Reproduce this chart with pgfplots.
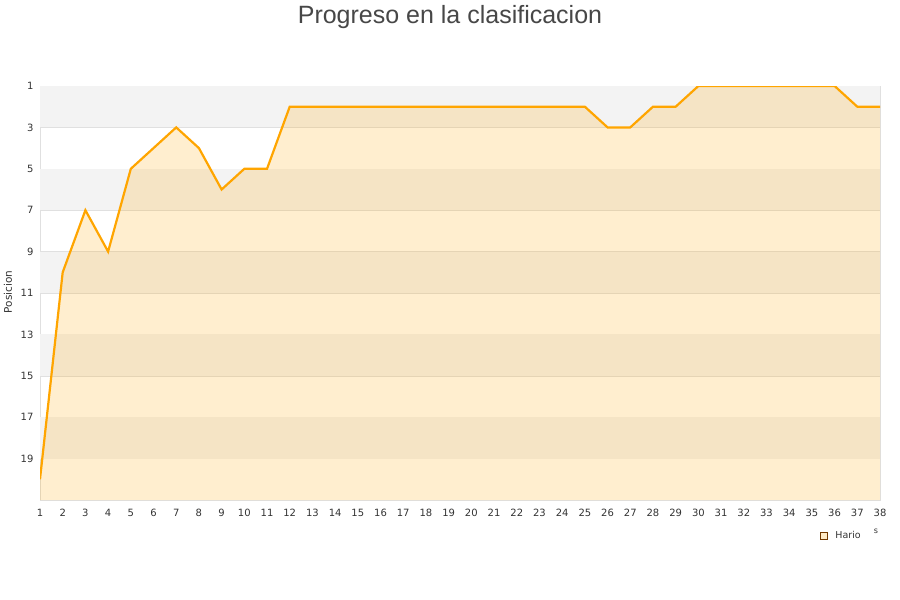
\documentclass[border=0pt]{standalone}
\usepackage{pgfplots}
\pgfplotsset{compat=1.18}
\usepackage{fontspec}
\setmainfont{DejaVu Sans}
\newfontfamily\titlefont{Liberation Sans}
\definecolor{lineor}{HTML}{FFA500}
\definecolor{bandgray}{HTML}{F3F3F3}
\definecolor{gridc}{HTML}{E0E0E0}
\definecolor{txt}{HTML}{333333}
\begin{document}
\begin{tikzpicture}[x=1pt,y=1pt]
% axis lower-left corner is at (0,0); picture is 900x600 with that corner at (40,100)
\useasboundingbox (-40,-100) rectangle (860,500);
\node[text=txt!90, font=\titlefont\fontsize{25}{30}\selectfont] at (410,483) {Progreso en la clasificacion};
\begin{axis}[
  width=840pt, height=414pt, scale only axis,
  xmin=1, xmax=38, ymin=1, ymax=21, y dir=reverse,
  xtick={1,...,38}, ytick={1,3,...,19},
  tick label style={font=\fontsize{10}{12}\selectfont, text=txt},
  xticklabel style={yshift=-6pt},
  yticklabel style={xshift=-3pt},
  /pgf/number format/assume math mode=true,
  tick style={draw=none},
  ymajorgrids, grid style={gridc, line width=0.6pt},
  axis line style={gridc, line width=0.8pt},
  legend style={at={(axis description cs:1,0)}, anchor=north east, yshift=-27pt, xshift=-14pt, draw=none, fill=none, font=\fontsize{9.5}{11}\selectfont, text=txt},
]
\pgfplotsinvokeforeach{1,5,9,13,17}{
  \fill[bandgray] (axis cs:1,#1) rectangle (axis cs:38,#1+2);
}
\addplot[draw=none, fill=lineor, fill opacity=0.19, forget plot] coordinates {
(1,21) (1,20) (2,10) (3,7) (4,9) (5,5) (6,4) (7,3) (8,4) (9,6) (10,5) (11,5) (12,2)
(13,2) (14,2) (15,2) (16,2) (17,2) (18,2) (19,2) (20,2) (21,2) (22,2) (23,2) (24,2)
(25,2) (26,3) (27,3) (28,2) (29,2) (30,1) (31,1) (32,1) (33,1) (34,1) (35,1) (36,1)
(37,2) (38,2) (38,21)
} -- cycle;
\addplot[lineor, line width=2.2pt, forget plot] coordinates {
(1,20) (2,10) (3,7) (4,9) (5,5) (6,4) (7,3) (8,4) (9,6) (10,5) (11,5) (12,2)
(13,2) (14,2) (15,2) (16,2) (17,2) (18,2) (19,2) (20,2) (21,2) (22,2) (23,2) (24,2)
(25,2) (26,3) (27,3) (28,2) (29,2) (30,1) (31,1) (32,1) (33,1) (34,1) (35,1) (36,1)
(37,2) (38,2)
};
\addlegendimage{legend image code/.code={\path[draw=none, fill=none] (0pt,0pt) rectangle (13pt,0.1pt); \draw[draw=orange!45!black, fill=lineor!22, line width=0.5pt] (0pt,-3.5pt) rectangle (7pt,3.5pt);}}
\addlegendentry{Hario}
\end{axis}
\node[rotate=90, text=txt, font=\fontsize{10.5}{12}\selectfont] at (-32,208) {Posicion};
\node[text=txt, font=\fontsize{8}{9}\selectfont] at (836,-31) {s};
\end{tikzpicture}
\end{document}
